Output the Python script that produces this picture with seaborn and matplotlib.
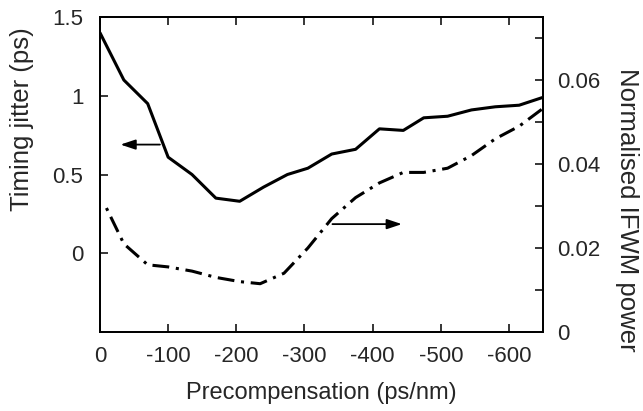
import numpy as np
import pandas as pd
import matplotlib
matplotlib.use("Agg")
import matplotlib.pyplot as plt
import seaborn as sns

# Timing jitter (left axis, ps)
jitter_x = [0, -35, -70, -100, -135, -170, -205, -240, -275, -305,
            -340, -375, -410, -445, -475, -510, -545, -580, -615, -650]
jitter_y = [1.40, 1.10, 0.95, 0.61, 0.50, 0.35, 0.33, 0.42, 0.50, 0.54,
            0.63, 0.66, 0.79, 0.78, 0.86, 0.87, 0.91, 0.93, 0.94, 0.99]

# Normalised IFWM power (right axis)
ifwm_x = [-8, -35, -70, -100, -135, -170, -205, -235, -270, -305,
          -340, -375, -410, -445, -475, -510, -545, -580, -615, -648]
ifwm_y = [0.030, 0.021, 0.016, 0.0155, 0.0145, 0.013, 0.012, 0.0115, 0.014, 0.020,
          0.027, 0.032, 0.0355, 0.038, 0.038, 0.039, 0.042, 0.046, 0.049, 0.053]

x_ticks = [0, -100, -200, -300, -400, -500, -600]
left_ticks = [0, 0.5, 1, 1.5]
left_labels = ["0", "0.5", "1", "1.5"]
right_ticks = [0, 0.02, 0.04, 0.06]
right_labels = ["0", "0.02", "0.04", "0.06"]

sns.set_style("ticks")
plt.rcParams['font.family'] = ['Liberation Sans', 'DejaVu Sans']

fig = plt.figure(figsize=(6.43, 4.11), dpi=100)
ax = fig.add_axes([0.1555, 0.1922, 0.689, 0.7664])
ax2 = ax.twinx()

df1 = pd.DataFrame({"x": jitter_x, "y": jitter_y})
df2 = pd.DataFrame({"x": ifwm_x, "y": ifwm_y})

sns.lineplot(data=df1, x="x", y="y", ax=ax, color="black", linewidth=2.2)
sns.lineplot(data=df2, x="x", y="y", ax=ax2, color="black", linewidth=2.2,
             linestyle=(0, (5.5, 2.2, 1, 2.2)))

ax.set_xlim(0, -650)
ax.set_ylim(-0.5, 1.5)
ax2.set_ylim(0, 0.075)

ax.set_xticks(x_ticks)
ax.set_xticklabels([str(t) for t in x_ticks])
ax.set_yticks(left_ticks)
ax.set_yticklabels(left_labels)
ax2.set_yticks(right_ticks)
ax2.set_yticklabels(right_labels)
ax2.set_yticks([0.01, 0.03, 0.05, 0.07], minor=True)

ax.tick_params(axis="x", direction="in", length=6, width=1.3, top=True, pad=10, labelsize=16)
ax.tick_params(axis="y", direction="in", length=6, width=1.3, pad=12, labelsize=16)
ax2.tick_params(axis="y", which="both", direction="in", length=6, width=1.3, pad=10, labelsize=16)

for a in (ax, ax2):
    for s in a.spines.values():
        s.set_visible(True)
        s.set_linewidth(1.3)
        s.set_color("black")

ax.set_xlabel("Precompensation (ps/nm)", fontsize=17, va="center")
ax.xaxis.set_label_coords(0.5, -0.194)
ax.set_ylabel("Timing jitter (ps)", fontsize=18.5, va="center")
ax.yaxis.set_label_coords(-0.176, 0.676)
ax2.set_ylabel("Normalised IFWM power", fontsize=18.5, rotation=-90, va="center")
ax2.yaxis.set_label_coords(1.19, 0.387)

arrow = dict(arrowstyle="-|>,head_length=0.9,head_width=0.3", color="black", lw=1.3)
ax.annotate("", xy=(-26, 0.69), xytext=(-92, 0.69), arrowprops=arrow)
ax.annotate("", xy=(-447, 0.185), xytext=(-337, 0.185), arrowprops=arrow)

fig.savefig("out.png", dpi=100)
